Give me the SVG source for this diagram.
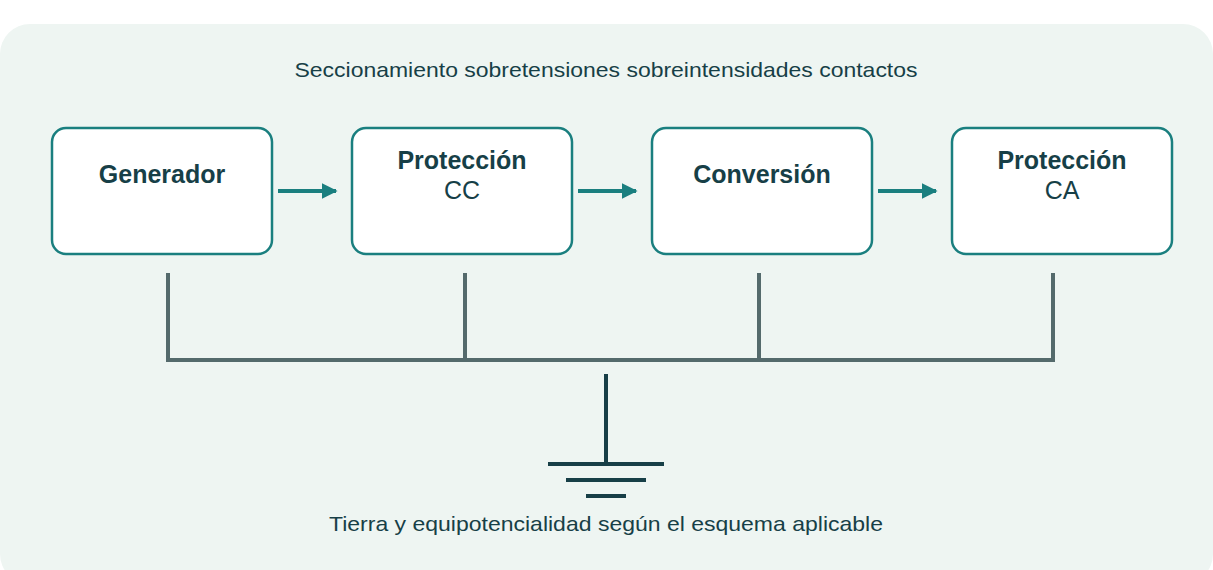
<svg xmlns="http://www.w3.org/2000/svg" width="1213" height="570" viewBox="0 0 1213 570">
<defs>
<style>
text{font-family:"Liberation Sans",Arial,sans-serif;fill:#173f47;text-anchor:middle}
.box{fill:#fff;stroke:#1a7f7f;stroke-width:2.5}
.b{font-weight:bold;font-size:25px}
.n{font-size:25px}
.bus{stroke:#546a6c;stroke-width:4;fill:none}
.gnd{stroke:#173f47;stroke-width:4}
.arr{stroke:#1a7f7f;stroke-width:4}
</style>
<marker id="ah" viewBox="0 0 10 10" refX="9" refY="5" markerWidth="4" markerHeight="4" markerUnits="strokeWidth" orient="auto"><path d="M0,0L10,5L0,10z" fill="#1a7f7f"/></marker>
</defs>
<rect x="0" y="24" width="1213" height="560" rx="30" fill="#eef5f2"/>
<text x="606" y="77" font-size="21" textLength="623" lengthAdjust="spacingAndGlyphs">Seccionamiento sobretensiones sobreintensidades contactos</text>
<g id="generador"><rect class="box" x="52" y="128" width="220" height="126" rx="14"/><text class="b" x="162" y="183">Generador</text></g>
<g id="proteccion-cc"><rect class="box" x="352" y="128" width="220" height="126" rx="14"/><text class="b" x="462" y="169">Protección</text><text class="n" x="462" y="199">CC</text></g>
<g id="conversion"><rect class="box" x="652" y="128" width="220" height="126" rx="14"/><text class="b" x="762" y="183">Conversión</text></g>
<g id="proteccion-ca"><rect class="box" x="952" y="128" width="220" height="126" rx="14"/><text class="b" x="1062" y="169">Protección</text><text class="n" x="1062" y="199">CA</text></g>
<g id="connectors">
<line class="arr" x1="278" y1="191" x2="336" y2="191" marker-end="url(#ah)"/>
<line class="arr" x1="578" y1="191" x2="636" y2="191" marker-end="url(#ah)"/>
<line class="arr" x1="878" y1="191" x2="936" y2="191" marker-end="url(#ah)"/>
<path class="bus" d="M168,273V360M465,273V360M759,273V360M1053,273V360M166,360H1055"/>
</g>
<g id="tierra">
<line class="gnd" x1="606" y1="374" x2="606" y2="463"/>
<line class="gnd" x1="548" y1="464" x2="664" y2="464"/>
<line class="gnd" x1="566" y1="480" x2="646" y2="480"/>
<line class="gnd" x1="586" y1="496" x2="626" y2="496"/>
<text x="606" y="531" font-size="21" textLength="554" lengthAdjust="spacingAndGlyphs">Tierra y equipotencialidad según el esquema aplicable</text>
</g>
</svg>
